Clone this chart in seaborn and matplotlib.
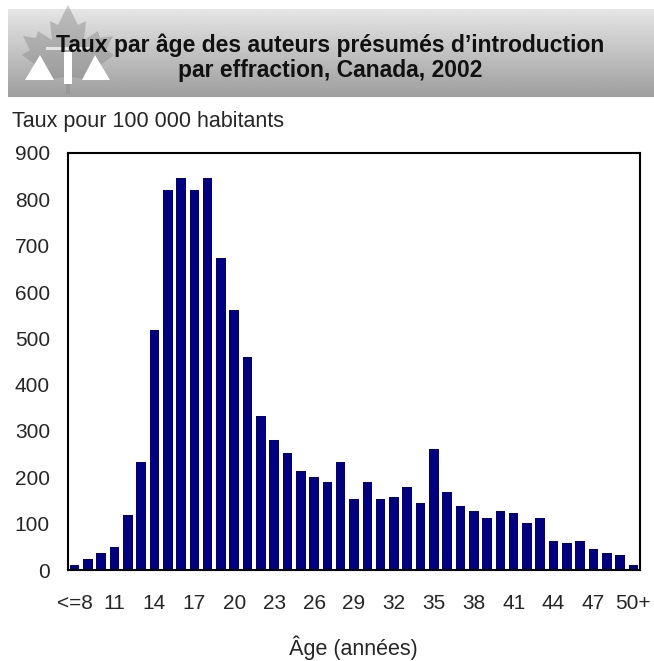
import numpy as np
import pandas as pd
import seaborn as sns
import matplotlib.pyplot as plt
from matplotlib.patches import Polygon

# taux par âge (pour 100 000 habitants)
ages = ["<=8"] + [str(a) for a in range(9, 50)] + ["50+"]
rates = [11, 23, 36, 49, 118, 234, 519, 821, 846, 821,
         846, 674, 562, 459, 333, 281, 252, 213, 200, 191,
         234, 153, 191, 153, 157, 179, 144, 261, 169, 139,
         127, 113, 127, 123, 101, 113, 62, 58, 62, 45,
         36, 32, 10]
shown_ticks = ["<=8", "11", "14", "17", "20", "23", "26", "29", "32",
               "35", "38", "41", "44", "47", "50+"]
y_ticks = list(range(0, 1000, 100))

sns.set_style("white")
plt.rcParams["font.family"] = ["Liberation Sans", "DejaVu Sans"]

df = pd.DataFrame({"age": ages, "taux": rates})

W, H = 654, 661
fig = plt.figure(figsize=(W / 100, H / 100), dpi=100)

# bandeau de titre (fond dégradé + logo)
bg = fig.add_axes([0, 0, 1, 1], zorder=0)
bg.set_xlim(0, W)
bg.set_ylim(H, 0)
bg.axis("off")
grad = np.linspace(0.9, 0.62, 100).reshape(-1, 1)
bg.imshow(grad, extent=[8, W, 97, 9], cmap="gray", vmin=0, vmax=1,
          aspect="auto", origin="upper")
leaf = [(68, 5), (58, 25), (50, 21), (52, 40), (38, 31), (36, 38), (23, 36),
        (30, 50), (22, 55), (45, 72), (42, 80), (66, 77), (66, 94), (70, 94),
        (70, 77), (94, 80), (91, 72), (114, 55), (106, 50), (113, 36),
        (100, 38), (98, 31), (84, 40), (86, 21), (78, 25)]
bg.add_patch(Polygon(leaf, closed=True, fc="#8a8a8a", ec="none", alpha=0.45))
bg.add_patch(Polygon([(40, 55), (25, 80), (54, 80)], fc="white", ec="none"))
bg.add_patch(Polygon([(95, 55), (82, 80), (110, 80)], fc="white", ec="none"))
bg.add_patch(Polygon([(64, 52), (72, 52), (72, 84), (64, 84)], fc="white", ec="none"))
bg.add_patch(Polygon([(46, 47), (90, 47), (90, 50), (46, 50)], fc="white", ec="none", alpha=0.7))

fig.text(330 / W, 1 - 45 / H, "Taux par âge des auteurs présumés d’introduction",
         ha="center", va="center", fontsize=16.5, fontweight="bold", color="#111111")
fig.text(330 / W, 1 - 71 / H, "par effraction, Canada, 2002",
         ha="center", va="center", fontsize=16.5, fontweight="bold", color="#111111")

# graphique
ax = fig.add_axes([68 / W, 1 - 570 / H, (640 - 68) / W, (570 - 153) / H], zorder=1)
sns.barplot(data=df, x="age", y="taux", color="#000080", saturation=1,
            width=0.72, linewidth=0, ax=ax)
ax.set_ylim(0, 900)
ax.set_xlim(-0.5, len(ages) - 0.5)
ax.set_yticks(y_ticks)
ax.set_xticks([ages.index(t) for t in shown_ticks])
ax.set_xticklabels(shown_ticks)
ax.tick_params(axis="y", direction="in", length=5, width=1.2, pad=13, labelsize=15)
ax.tick_params(axis="x", length=0, pad=17, labelsize=15)
ax.set_xlabel("")
ax.set_ylabel("")
for s in ax.spines.values():
    s.set_visible(True)
    s.set_color("black")
    s.set_linewidth(1.5)

fig.text(12 / W, 1 - 121 / H, "Taux pour 100 000 habitants", ha="left",
         va="center", fontsize=15.5)
fig.text(353 / W, 1 - 648 / H, "Âge (années)", ha="center", va="center", fontsize=15.5)

fig.savefig("out.png", dpi=100)
